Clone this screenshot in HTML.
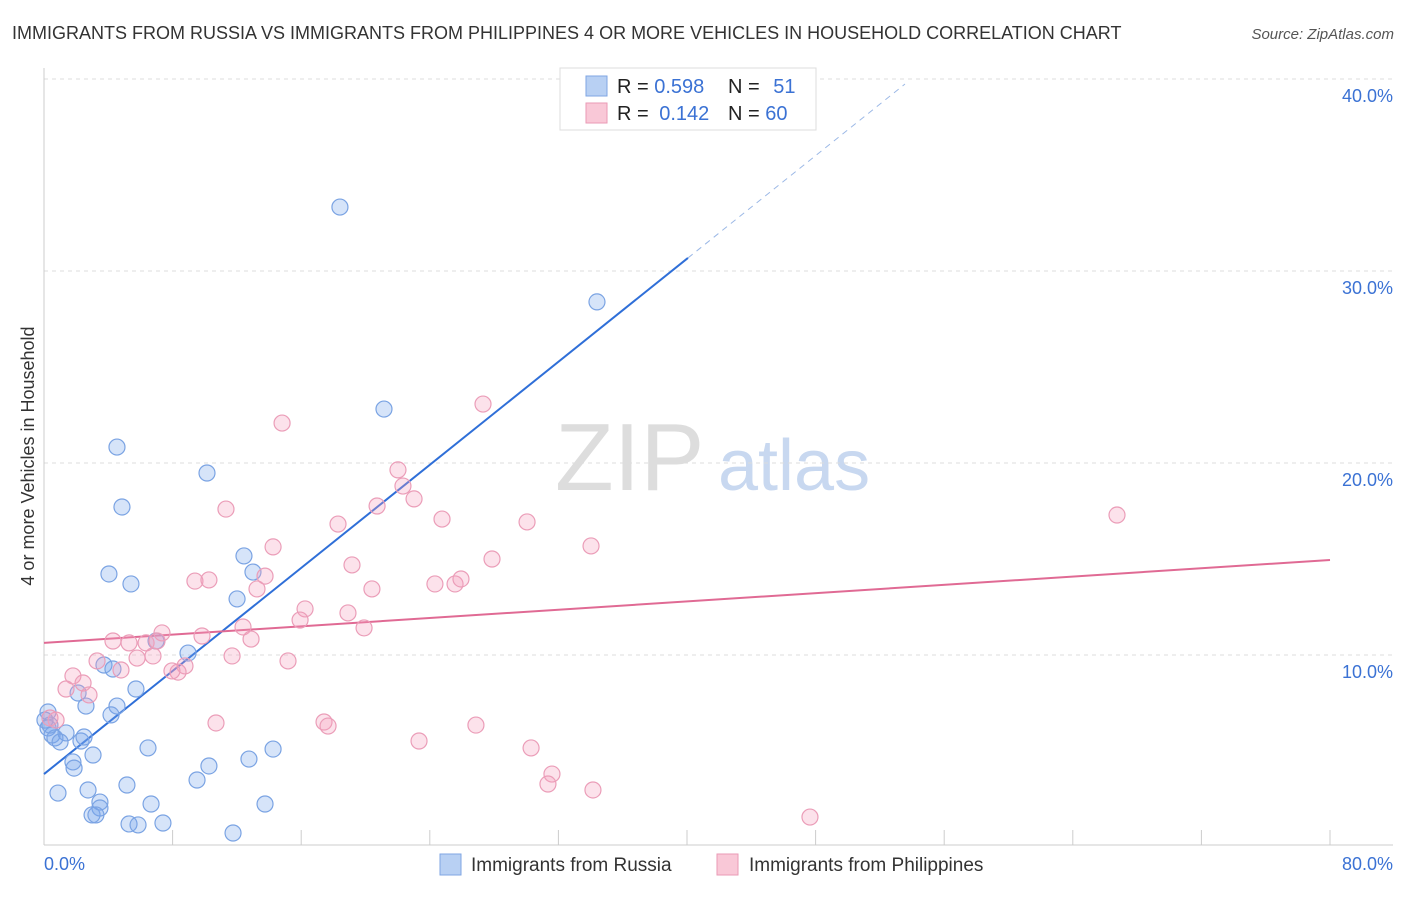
<!DOCTYPE html>
<html><head><meta charset="utf-8"><style>
body{margin:0;background:#fff;font-family:"Liberation Sans",sans-serif}
svg text{font-family:"Liberation Sans",sans-serif}
</style></head><body>
<svg id="chart" width="1406" height="892">
<text x="12" y="39" font-size="18" fill="#333">IMMIGRANTS FROM RUSSIA VS IMMIGRANTS FROM PHILIPPINES 4 OR MORE VEHICLES IN HOUSEHOLD CORRELATION CHART</text>
<text x="1394" y="39" font-size="15" fill="#555" font-style="italic" text-anchor="end">Source: ZipAtlas.com</text>
<g><text x="555" y="490" font-size="96" font-family="Liberation Serif" fill="#ddd">ZIP</text><text x="718" y="490" font-size="72" fill="#c8d8f0">atlas</text></g>
<g id="grid"></g>
<g id="axes"></g>
<g id="lines"></g>
<g id="pts"></g>
<text transform="translate(34,456) rotate(-90)" font-size="18" fill="#333" text-anchor="middle">4 or more Vehicles in Household</text>
<text x="44" y="870" font-size="18" fill="#3b72d4">0.0%</text>
<text x="1393" y="870" font-size="18" fill="#3b72d4" text-anchor="end">80.0%</text>
<g>
<rect x="560" y="68" width="256" height="62" fill="#fff" stroke="#ddd"/>
<rect x="586" y="76" width="21" height="20" fill="#b8d0f3" stroke="#7fa6e3"/>
<rect x="586" y="103" width="21" height="20" fill="#f9c8d7" stroke="#ea9ab5"/>
<text x="617" y="93" font-size="20" fill="#222">R = <tspan fill="#3b72d4">0.598</tspan></text>
<text x="728" y="93" font-size="20" fill="#222">N = <tspan fill="#3b72d4" dx="8">51</tspan></text>
<text x="617" y="120" font-size="20" fill="#222">R = <tspan fill="#3b72d4" dx="5">0.142</tspan></text>
<text x="728" y="120" font-size="20" fill="#222">N = <tspan fill="#3b72d4">60</tspan></text>
</g>
<g>
<rect x="440" y="854" width="21" height="21" fill="#b8d0f3" stroke="#7fa6e3"/>
<text x="471" y="871" font-size="19" fill="#333">Immigrants from Russia</text>
<rect x="717" y="854" width="21" height="21" fill="#f9c8d7" stroke="#ea9ab5"/>
<text x="749" y="871" font-size="19" fill="#333">Immigrants from Philippines</text>
</g>
</svg>
<script>
const yTicks=[10,20,30,40];
const yTickLabels=["10.0%","20.0%","30.0%","40.0%"];
const xTicks=[0,8,16,24,32,40,48,56,64,72,80];
const russiaX=[18.41,34.40,21.15,4.54,10.14,4.85,12.44,4.04,5.41,13.00,12.01,6.97,8.96,3.73,4.29,5.72,2.12,2.61,4.54,4.17,0.25,0.25,0.50,1.37,0.68,1.00,2.30,2.49,3.05,6.47,14.25,12.75,1.80,1.87,10.26,5.16,9.52,0.87,2.74,3.48,3.48,6.66,13.75,2.99,3.23,5.29,5.85,7.40,11.76,0.06,0.37];
const russiaY=[33.33,28.39,22.81,20.83,19.48,17.71,15.16,14.22,13.70,14.32,12.92,10.73,10.10,9.48,9.27,8.23,8.02,7.34,7.34,6.88,7.03,6.20,5.83,5.94,5.68,5.47,5.52,5.73,4.79,5.16,5.10,4.58,4.43,4.11,4.22,3.23,3.49,2.81,2.97,2.34,2.03,2.24,2.24,1.67,1.67,1.20,1.15,1.25,0.73,6.61,6.35];
const philX=[27.31,14.81,22.02,22.33,23.02,11.32,20.72,18.29,24.76,30.05,66.75,14.25,34.03,27.87,19.16,13.75,9.39,10.26,13.25,20.40,24.32,25.57,25.94,16.24,15.93,18.91,19.91,12.38,7.34,9.83,4.29,5.29,6.35,7.03,12.88,11.70,6.78,5.79,3.30,15.18,8.77,8.34,7.96,1.80,4.79,2.43,2.80,1.37,17.42,10.70,17.67,26.87,0.75,23.33,30.30,31.60,31.35,34.15,47.65,0.37];
const philY=[23.07,22.08,19.64,18.80,18.13,17.60,17.76,16.82,17.08,16.93,17.29,15.63,15.68,15.00,14.69,14.11,13.85,13.91,13.44,13.44,13.70,13.70,13.96,12.40,11.82,12.19,11.41,11.46,11.15,10.99,10.73,10.63,10.63,10.73,10.83,9.95,9.95,9.84,9.69,9.69,9.43,9.11,9.17,8.91,9.22,8.54,7.92,8.23,6.51,6.46,6.30,6.35,6.61,5.52,5.16,3.80,3.28,2.97,1.56,6.72];
const russiaFit=[3.80,0.671];
const philFit=[10.63,0.054];
const NS="http://www.w3.org/2000/svg";
const X=v=>44+v*16.075, Y=v=>847-v*19.2;
function mk(t,a,p){const e=document.createElementNS(NS,t);for(const k in a)e.setAttribute(k,a[k]);p.appendChild(e);return e;}
const grid=document.getElementById('grid'),axes=document.getElementById('axes'),lines=document.getElementById('lines'),pts=document.getElementById('pts');
yTicks.forEach((t,i)=>{
 const l=mk('line',{x1:44,x2:1393,y1:Y(t),y2:Y(t),stroke:'#ddd','stroke-dasharray':'4,4'},grid);
 
 
 const tx=mk('text',{x:1393,y:Y(t)+23,'font-size':18,fill:'#3b72d4','text-anchor':'end'},grid);
 tx.textContent=yTickLabels[i];
 
 
});
mk('line',{x1:44,x2:44,y1:68,y2:845,stroke:'#ccc'},axes);
mk('line',{x1:44,x2:1393,y1:845,y2:845,stroke:'#ccc'},axes);
xTicks.forEach(t=>{
 const l=mk('line',{x1:X(t),x2:X(t),y1:830,y2:845,stroke:'#ccc'},axes);
 
 
});
function dots(xs,ys,fill,stroke,name){xs.forEach((x,i)=>{
 const c=mk('circle',{cx:X(x),cy:Y(ys[i]),r:8,fill:fill,stroke:stroke,'stroke-width':1.2},pts);
 
 
});}
dots(russiaX,russiaY,'rgba(120,165,235,0.3)','#7aa3e3','russia-point');
dots(philX,philY,'rgba(245,160,190,0.3)','#eb9db8','philippines-point');
const fy=(f,x)=>f[0]+f[1]*x;
let l=mk('line',{x1:X(0),y1:Y(fy(russiaFit,0)),x2:X(40.06),y2:Y(fy(russiaFit,40.06)),stroke:'#2f6fd8','stroke-width':2},lines);


l=mk('line',{x1:X(40.06),y1:Y(fy(russiaFit,40.06)),x2:X(53.56),y2:Y(fy(russiaFit,53.56)),stroke:'#9bb8e6','stroke-width':1,'stroke-dasharray':'6,5'},lines);


l=mk('line',{x1:X(0),y1:Y(fy(philFit,0)),x2:X(80),y2:Y(fy(philFit,80)),stroke:'#e06a94','stroke-width':2},lines);


</script>
</body></html>
